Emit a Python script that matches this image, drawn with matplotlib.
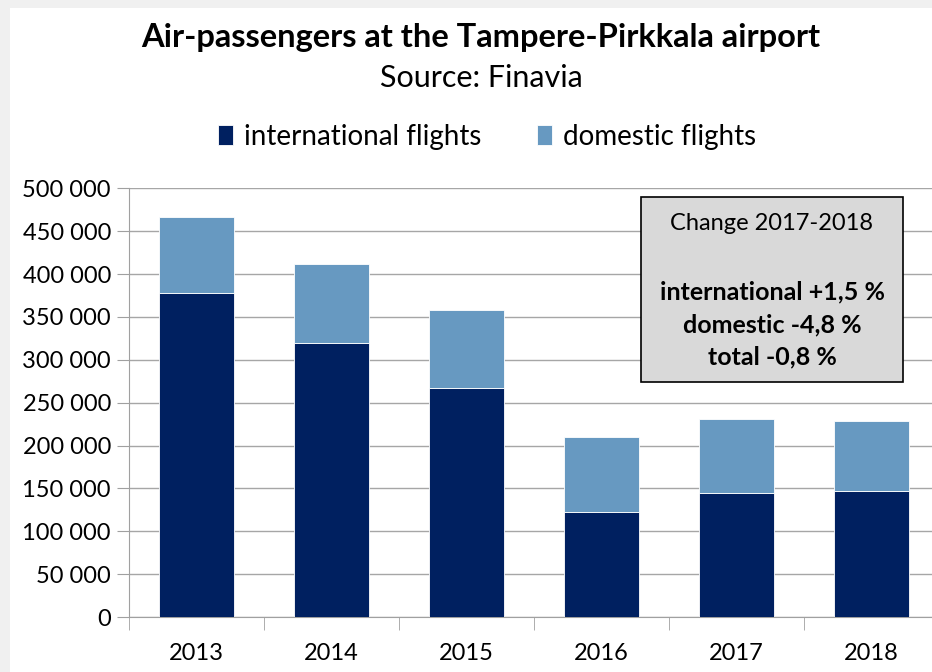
import matplotlib.pyplot as plt
from matplotlib.patches import Rectangle
from matplotlib.ticker import FuncFormatter

years = ["2013", "2014", "2015", "2016", "2017", "2018"]
international = [378000, 320000, 267000, 122500, 145000, 147200]
domestic = [88000, 92000, 90500, 87500, 86000, 81900]

plt.rcParams['font.family'] = ['Lato', 'DejaVu Sans']

fig = plt.figure(figsize=(9.32, 6.72), dpi=100, facecolor='#f0f0f0')
# white chart area inside the grey frame
fig.patches.append(Rectangle((10 / 932, 0), 1, 1 - 8 / 672, transform=fig.transFigure,
                             facecolor='white', edgecolor='none', zorder=-1))

ax = fig.add_axes([129 / 932, 1 - 617 / 672, 810 / 932, (617 - 188.3) / 672])
ax.set_facecolor('white')

x = range(len(years))
ax.bar(x, international, width=0.555, color='#002060', edgecolor='white', linewidth=0.6,
       label='international flights', zorder=3)
ax.bar(x, domestic, width=0.555, bottom=international, color='#6799C1', edgecolor='white',
       linewidth=0.6, label='domestic flights', zorder=3)

ax.set_xlim(-0.5, 5.5)
ax.set_ylim(0, 500000)
ax.set_yticks(range(0, 500001, 50000))
ax.yaxis.set_major_formatter(FuncFormatter(lambda v, p: f"{int(v):,}".replace(",", " ")))
ax.set_xticks(x)
ax.set_xticklabels(years)
ax.set_xticks([i - 0.5 for i in range(len(years) + 1)], minor=True)
ax.tick_params(axis='x', which='major', length=0, pad=18.5, labelsize=17)
ax.tick_params(axis='x', which='minor', length=9, color='#a0a0a0')
ax.tick_params(axis='y', length=9, color='#a0a0a0', labelsize=17, pad=4)
ax.grid(axis='y', color='#a6a6a6', linewidth=1, zorder=0)
for s in ['top', 'right']:
    ax.spines[s].set_visible(False)
for s in ['left', 'bottom']:
    ax.spines[s].set_color('#a0a0a0')

fig.text(481 / 932, 1 - 37 / 672, "Air-passengers at the Tampere-Pirkkala airport",
         ha='center', va='center', fontsize=23.5, fontweight='bold')
fig.text(481 / 932, 1 - 78 / 672, "Source: Finavia", ha='center', va='center', fontsize=22)

fig.legend(loc='center', bbox_to_anchor=(487 / 932, 1 - 137 / 672), ncol=2, frameon=False,
           fontsize=20, handlelength=0.55, handleheight=0.75, handletextpad=0.4,
           columnspacing=2.0)

fig.patches.append(Rectangle((641 / 932, 1 - 382 / 672), 262 / 932, 185 / 672,
                             transform=fig.transFigure, facecolor='#d9d9d9',
                             edgecolor='black', linewidth=1.2, zorder=5))
fig.text(772 / 932, 1 - 223 / 672, "Change 2017-2018", ha='center', va='center',
         fontsize=17, zorder=6)
fig.text(772 / 932, 1 - 292 / 672, "international +1,5 %", ha='center', va='center',
         fontsize=18, fontweight='bold', zorder=6)
fig.text(772 / 932, 1 - 325 / 672, "domestic -4,8 %", ha='center', va='center',
         fontsize=18, fontweight='bold', zorder=6)
fig.text(772 / 932, 1 - 357 / 672, "total -0,8 %", ha='center', va='center',
         fontsize=18, fontweight='bold', zorder=6)

fig.savefig('out.png', dpi=100, facecolor=fig.get_facecolor())
